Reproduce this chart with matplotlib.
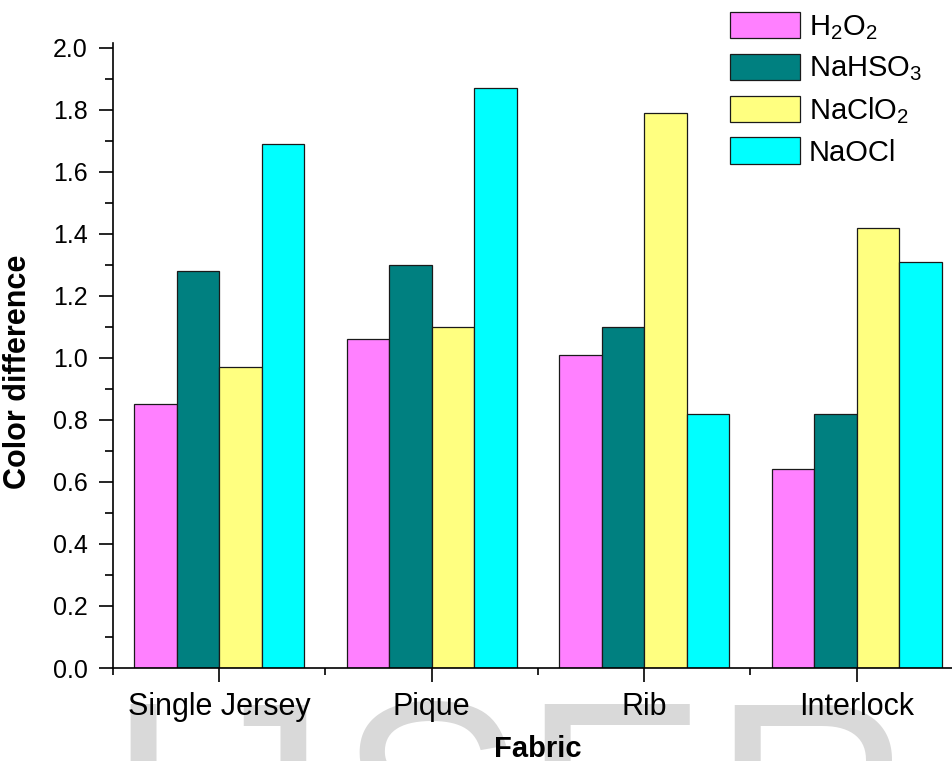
import numpy as np
import matplotlib
matplotlib.use("Agg")
import matplotlib.pyplot as plt

plt.rcParams["font.family"] = ["Liberation Sans", "DejaVu Sans"]
plt.rcParams["mathtext.fontset"] = "custom"
plt.rcParams["mathtext.rm"] = "Liberation Sans"
plt.rcParams["mathtext.it"] = "Liberation Sans:italic"
plt.rcParams["mathtext.bf"] = "Liberation Sans:bold"

fabrics = ["Single Jersey", "Pique", "Rib", "Interlock"]
agents = [r"H$_\mathregular{2}$O$_\mathregular{2}$",
          r"NaHSO$_\mathregular{3}$",
          r"NaClO$_\mathregular{2}$",
          "NaOCl"]
h2o2 = [0.85, 1.06, 1.01, 0.64]
nahso3 = [1.28, 1.30, 1.10, 0.82]
naclo2 = [0.97, 1.10, 1.79, 1.42]
naocl = [1.69, 1.87, 0.82, 1.31]
colors = ["#FF80FF", "#008080", "#FFFF80", "#00FFFF"]

W, H = 953, 761
fig = plt.figure(figsize=(W / 100, H / 100), dpi=100)

# grey journal watermark, one letter at a time (pixel x of each letter)
mark_letters = ["I", "J", "S", "E", "R"]
mark_x = [104, 188, 337, 521, 711]
for ch, px in zip(mark_letters, mark_x):
    fig.text(px / W, 1 - 896 / H, ch, fontsize=200, color="#d9d9d9",
             ha="left", va="baseline", zorder=-1)

ax = fig.add_axes([113 / W, 1 - 668 / H, 850 / W, 625 / H])
ax.patch.set_alpha(0)

x = np.arange(len(fabrics))
width = 0.2
series = [h2o2, nahso3, naclo2, naocl]
for i, (vals, lab, c) in enumerate(zip(series, agents, colors)):
    ax.bar(x + (i - 1.5) * width, vals, width, color=c, edgecolor="#1a1a1a",
           linewidth=0.9, label=lab)

ax.set_xlim(-0.5, 3.5)
ax.set_ylim(0, 2.015)
ax.set_xticks(x)
ax.set_xticklabels(fabrics)
ax.set_xticks([-0.5, 0.5, 1.5, 2.5], minor=True)
ax.set_yticks(np.arange(0, 2.01, 0.2))
ax.set_yticklabels([f"{v:.1f}" for v in np.arange(0, 2.01, 0.2)])
ax.set_yticks(np.arange(0.1, 2.0, 0.2), minor=True)

for s in ["top", "right"]:
    ax.spines[s].set_visible(False)
for s in ["left", "bottom"]:
    ax.spines[s].set_linewidth(1.2)

ax.tick_params(axis="y", which="major", length=10, width=1.2, labelsize=18, pad=8)
ax.tick_params(axis="y", which="minor", length=6, width=1.2)
ax.tick_params(axis="x", which="major", length=10, width=1.2, labelsize=22, pad=7)
ax.tick_params(axis="x", which="minor", length=5, width=1.2)

ax.set_ylabel("Color difference", fontsize=22, fontweight="bold")
ax.yaxis.set_label_coords(-0.094, 0.474)
ax.set_xlabel("Fabric", fontsize=21, fontweight="bold")
ax.xaxis.set_label_coords(0.5, -0.107)
ax.xaxis.label.set_va("top")

fig.legend(loc="upper left", bbox_to_anchor=(730 / W, 1 - 12 / H),
           frameon=False, fontsize=21, borderpad=0, borderaxespad=0,
           handlelength=2.4, handleheight=1.0, handletextpad=0.3,
           labelspacing=0.4)

fig.savefig("out.png", dpi=100)
